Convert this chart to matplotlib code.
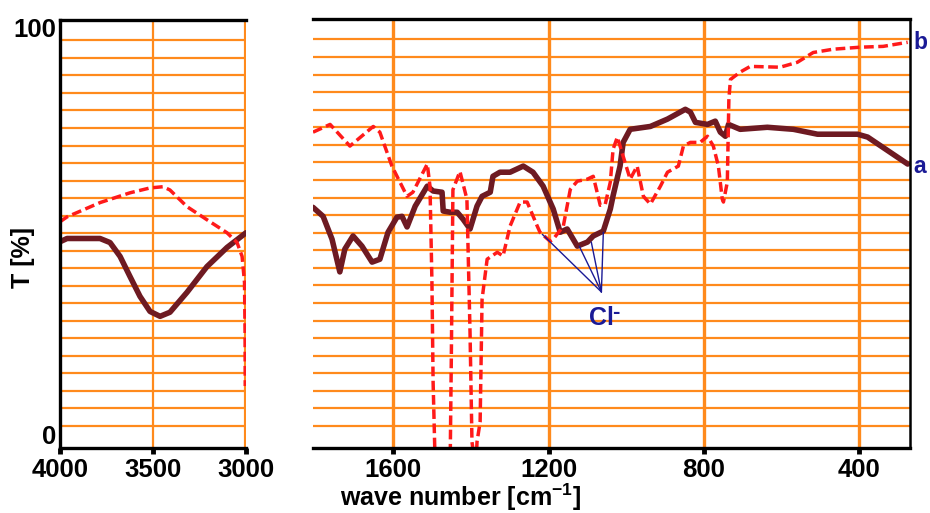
import matplotlib
matplotlib.use("Agg")
import matplotlib.pyplot as plt
import numpy as np

plt.rcParams['font.family'] = ['Liberation Sans', 'DejaVu Sans']
plt.rcParams['font.weight'] = 'bold'
plt.rcParams['mathtext.fontset'] = 'custom'
plt.rcParams['mathtext.rm'] = 'Liberation Sans:bold'
plt.rcParams['mathtext.bf'] = 'Liberation Sans:bold'
plt.rcParams['mathtext.default'] = 'bf'

# ---------------- data ----------------
# left panel (4000-3000 cm-1)
left_wn_a = [4000, 3962, 3785, 3731, 3677, 3624, 3570, 3516, 3462, 3409, 3317, 3210, 3102, 3000]
left_T_a = [47.4, 48.2, 48.2, 47.2, 43.8, 38.9, 34.0, 30.3, 29.1, 30.1, 35.0, 41.3, 46.0, 49.6]

left_wn_b = [4000, 3962, 3785, 3624, 3516, 3446, 3409, 3317, 3210, 3102, 3048, 3021, 3008, 3005, 3004]
left_T_b = [52.3, 53.5, 57.0, 59.4, 60.6, 60.9, 60.1, 56.0, 52.8, 49.6, 47.2, 43.8, 37.4, 25.2, 12.0]

# right panel (1800-270 cm-1)
right_wn_a = [1806, 1780, 1757, 1737, 1724, 1703, 1680, 1654, 1634, 1613, 1590, 1577, 1564, 1543,
              1512, 1497, 1474, 1471, 1453, 1435, 1420, 1402, 1384, 1371, 1350, 1343, 1325, 1299,
              1265, 1240, 1214, 1188, 1170, 1152, 1126, 1100, 1085, 1059, 1041, 1034, 1016, 1008,
              990, 938, 894, 848, 835, 822, 791, 771, 758, 745, 737, 707, 637, 570, 508, 405, 379, 276]
right_T_a = [55.7, 53.5, 47.9, 39.9, 45.5, 48.7, 46.2, 42.3, 43.0, 49.6, 53.3, 53.5, 50.9, 56.0,
             60.9, 59.7, 59.4, 54.8, 54.5, 54.5, 52.8, 50.4, 56.0, 58.4, 59.4, 63.3, 64.3, 64.3,
             65.8, 64.3, 60.9, 55.3, 49.6, 50.4, 46.2, 47.2, 48.7, 49.9, 55.3, 58.5, 65.8, 71.6,
             74.8, 75.5, 77.3, 79.7, 79.0, 76.5, 76.0, 76.8, 74.1, 73.1, 76.0, 74.8, 75.3, 74.8,
             73.6, 73.6, 72.9, 66.3]

right_wn_b = [1806, 1762, 1711, 1651, 1634, 1603, 1564, 1549, 1512, 1505, 1500, 1497, 1492, 1453,
              1450, 1446, 1428, 1410, 1402, 1397, 1391, 1386, 1384, 1376, 1371, 1358, 1332, 1317,
              1299, 1273, 1255, 1229, 1222, 1196, 1188, 1162, 1144, 1126, 1100, 1085, 1075, 1067,
              1054, 1041, 1034, 1023, 1008, 990, 972, 956, 938, 912, 894, 866, 853, 835, 810, 791,
              776, 763, 753, 750, 740, 736, 732, 707, 681, 604, 560, 519, 468, 398, 339, 276]
right_T_b = [74.1, 76.0, 70.7, 75.5, 74.1, 65.8, 58.4, 59.4, 66.3, 60.9, 37.4, 13.0, -6.0, -6.0,
             20.0, 60.0, 64.5, 57.7, 25.2, -1.7, -6.0, -6.0, -1.7, 3.2, 33.2, 43.0, 44.7, 43.8,
             51.1, 57.0, 57.0, 51.1, 49.6, 47.4, 47.9, 51.1, 60.1, 62.1, 62.6, 63.3, 59.4, 56.2,
             56.5, 61.9, 69.9, 72.9, 68.2, 62.6, 65.8, 58.4, 56.5, 60.9, 64.3, 65.8, 70.7, 71.6,
             71.6, 73.1, 70.7, 65.8, 57.7, 57.0, 61.9, 82.2, 87.0, 88.8, 90.2, 90.0, 91.2, 93.6,
             94.4, 94.9, 95.1, 96.1]

left_xticks = [4000, 3500, 3000]
right_xticks = [1600, 1200, 800, 400]
y_ticks = [0, 100]

cl_origin = (1064, 35.0)
cl_ends = [(1216, 49.1), (1121, 46.2), (1090, 47.2), (1059, 49.6)]
cl_text_pos = (1064, 28.6)

# ---------------- styles ----------------
c_grid = '#ff8a1c'
c_a = '#6e1a22'
c_b = '#ff1a1a'
c_navy = '#1a1a96'
grid_levels = np.linspace(2.2, 96.8, 23)
ylim = (-3.2, 101.8)

fig = plt.figure(figsize=(9.3, 5.13), dpi=100)
axL = fig.add_axes([60/930, 65/513, 186/930, 428/513])
axR = fig.add_axes([313/930, 65/513, 597/930, 429/513])

for ax in (axL, axR):
    ax.set_ylim(*ylim)
    for lv in grid_levels:
        ax.axhline(lv, color=c_grid, lw=1.6, zorder=1)
    ax.tick_params(axis='x', direction='out', length=4, width=3.5, color='black',
                   labelsize=18.5, pad=3)
    for s in ax.spines.values():
        s.set_linewidth(2.4)
        s.set_color('black')
        s.set_zorder(5)

# left panel
axL.set_xlim(4000, 3000)
axL.axvline(3500, color=c_grid, lw=1.6, zorder=1)
axL.axvline(3000, color=c_grid, lw=3.0, zorder=1)
axL.spines['right'].set_visible(False)
axL.set_xticks(left_xticks)
axL.set_yticks(y_ticks)
axL.tick_params(axis='y', length=0, labelsize=18.5, pad=3)
axL.plot(left_wn_a, left_T_a, color=c_a, lw=4.0, solid_capstyle='round',
         solid_joinstyle='round', zorder=3)
axL.plot(left_wn_b, left_T_b, color=c_b, lw=2.5, dashes=(2.8, 1.3), zorder=4)

# right panel
axR.set_xlim(1806, 270)
for v in right_xticks:
    axR.axvline(v, color=c_grid, lw=2.4, zorder=1)
axR.spines['left'].set_visible(False)
axR.spines['right'].set_linewidth(1.8)
axR.set_xticks(right_xticks)
axR.set_yticks([])
axR.plot(right_wn_a, right_T_a, color=c_a, lw=4.0, solid_capstyle='round',
         solid_joinstyle='round', zorder=3)
axR.plot(right_wn_b, right_T_b, color=c_b, lw=2.5, dashes=(2.8, 1.3), zorder=4)

for end in cl_ends:
    axR.annotate('', xy=end, xytext=cl_origin,
                 arrowprops=dict(arrowstyle='-', color=c_navy, lw=1.0,
                                 shrinkA=0, shrinkB=0), zorder=6)
axR.text(cl_text_pos[0], cl_text_pos[1], 'Cl', color=c_navy, fontsize=18,
         fontweight='bold', ha='center', va='center', zorder=6)
axR.annotate('-', xy=cl_text_pos, xytext=(8, 4), textcoords='offset points',
             color=c_navy, fontsize=16, fontweight='bold', ha='left', va='center', zorder=6)

# curve labels
axR.annotate('b', xy=(1.0, right_T_b[-1]), xycoords=('axes fraction', 'data'),
             xytext=(2.5, 0), textcoords='offset points', color=c_navy, fontsize=16.5,
             fontweight='bold', ha='left', va='center', annotation_clip=False)
axR.annotate('a', xy=(1.0, right_T_a[-1]), xycoords=('axes fraction', 'data'),
             xytext=(2.5, -2), textcoords='offset points', color=c_navy, fontsize=16.5,
             fontweight='bold', ha='left', va='center', annotation_clip=False)

fig.text(23/930, 1 - 258/513, 'T [%]', rotation=90, ha='center', va='center',
         fontsize=18, fontweight='bold')
fig.text(461/930, 1 - 497/513, r'wave number [cm$^{-1}$]', ha='center', va='center',
         fontsize=18, fontweight='bold')

fig.savefig('out.png', dpi=100)
